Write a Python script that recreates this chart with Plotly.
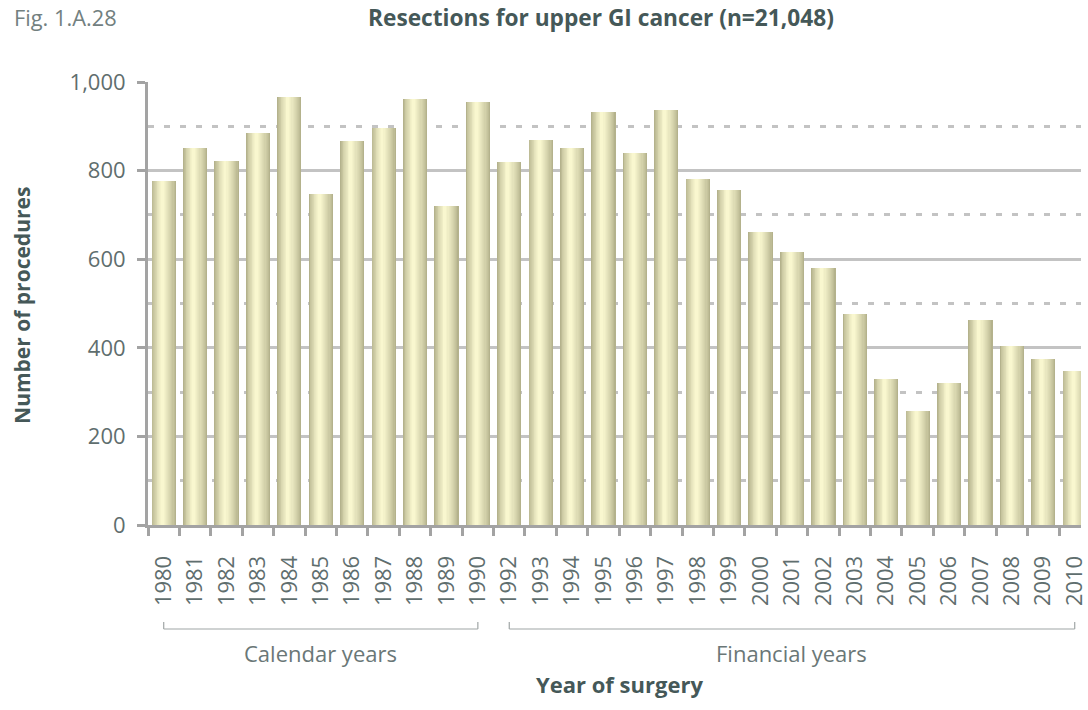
import plotly.graph_objects as go

# ---- data ----
years = ["1980", "1981", "1982", "1983", "1984", "1985", "1986", "1987", "1988", "1989", "1990",
         "1992", "1993", "1994", "1995", "1996", "1997", "1998", "1999", "2000", "2001",
         "2002", "2003", "2004", "2005", "2006", "2007", "2008", "2009", "2010"]
procedures = [777, 851, 822, 885, 966, 747, 867, 896, 961, 720, 955,
              819, 869, 851, 932, 840, 937, 781, 756, 661, 616,
              580, 477, 330, 257, 320, 463, 404, 375, 348]
group_labels = ["Calendar years", "Financial years"]
group_spans = [(0, 10), (11, 29)]  # category index ranges

title_text = "Resections for upper GI cancer (n=21,048)"
fig_label = "Fig. 1.A.28"
y_title = "Number of procedures"
x_title = "Year of surgery"

# ---- layout geometry (pixels) ----
W, H = 1088, 710
L, R, T, B = 148, 0, 82, 185
PW, PH = W - L - R, H - T - B


def px(x):
    return (x - L) / PW


def py(y):
    return (H - B - y) / PH


def mix(c1, c2, t):
    a = [int(c1[i:i + 2], 16) for i in (1, 3, 5)]
    b = [int(c2[i:i + 2], 16) for i in (1, 3, 5)]
    return "#" + "".join(f"{round(a[k] + (b[k] - a[k]) * t):02x}" for k in range(3))


FONT = "Open Sans"
TICK_COL = "#5f6e6e"
TITLE_COL = "#455858"
GRID_COL = "#c3c3c3"
AXIS_COL = "#a3a3a3"

fig = go.Figure()

# cylinder-like shading: stacked narrower bars with lighter colours
n_layers = 12
bar_w = 0.77
for i in range(n_layers):
    t = i / (n_layers - 1)
    w = bar_w * (1 - 0.88 * t)
    centre = -0.05 * t
    fig.add_trace(go.Bar(
        x=years, y=procedures,
        width=w, offset=centre - w / 2,
        marker=dict(color=mix("#b4b28c", "#f9f7cf", t ** 0.8), line=dict(width=0)),
        hoverinfo="skip" if i else "x+y",
        showlegend=False,
    ))

shapes = []
for (a, b) in group_spans:
    y_line = py(629)
    y_top = py(622)
    shapes.append(dict(type="line", xref="x", yref="paper", x0=a, x1=b, y0=y_line, y1=y_line,
                       line=dict(color="#a0a6a6", width=1.2)))
    for xx in (a, b):
        shapes.append(dict(type="line", xref="x", yref="paper", x0=xx, x1=xx, y0=y_line, y1=y_top,
                           line=dict(color="#a0a6a6", width=1.2)))

annotations = [
    dict(text=fig_label, xref="paper", yref="paper", x=px(11), y=py(18), xanchor="left", yanchor="middle",
         showarrow=False, font=dict(family=FONT, size=21.8, color="#72807f")),
    dict(text=f"<b>{title_text}</b>", xref="paper", yref="paper", x=px(604), y=py(18), xanchor="center",
         yanchor="middle", showarrow=False, font=dict(family=FONT, size=22.7, color=TITLE_COL)),
    dict(text=f"<b>{y_title}</b>", xref="paper", yref="paper", x=px(21), y=py(305), xanchor="center",
         yanchor="middle", textangle=-90, showarrow=False, font=dict(family=FONT, size=21, color=TITLE_COL)),
    dict(text=f"<b>{x_title}</b>", xref="paper", yref="paper", x=px(623), y=py(684), xanchor="center",
         yanchor="middle", showarrow=False, font=dict(family=FONT, size=22, color=TITLE_COL)),
]
for lab, (a, b) in zip(group_labels, group_spans):
    annotations.append(dict(text=lab, xref="x", yref="paper", x=(a + b) / 2, y=py(653), xanchor="center",
                            yanchor="middle", showarrow=False, font=dict(family=FONT, size=22, color="#6a7777")))

fig.update_layout(
    width=W, height=H,
    margin=dict(l=L, r=R, t=T, b=B, pad=0),
    paper_bgcolor="white", plot_bgcolor="white",
    barmode="overlay", bargap=0,
    font=dict(family=FONT, color=TICK_COL),
    shapes=shapes, annotations=annotations,
    xaxis=dict(
        type="category", range=[-0.5, 29.2],
        showline=True, linecolor=AXIS_COL, linewidth=3,
        ticks="outside", tickson="boundaries", ticklen=8, tickwidth=2.5, tickcolor=AXIS_COL,
        tickangle=-90, tickfont=dict(family=FONT, size=22, color=TICK_COL),
        ticklabelstandoff=19,
        showgrid=False, fixedrange=True,
    ),
    yaxis=dict(
        range=[0, 1000], tickvals=[0, 200, 400, 600, 800, 1000], tickformat=",",
        showline=True, linecolor=AXIS_COL, linewidth=3,
        ticks="outside", ticklen=8, tickwidth=2.5, tickcolor=AXIS_COL,
        tickfont=dict(family=FONT, size=22, color=TICK_COL),
        ticklabelstandoff=7,
        showgrid=True, gridcolor=GRID_COL, gridwidth=2.5, zeroline=False,
        minor=dict(dtick=100, tick0=0, showgrid=True, gridcolor=GRID_COL, gridwidth=2.5,
                   griddash="6px,10px", ticks=""),
        fixedrange=True,
    ),
)

fig.write_html("out.html", config={"displayModeBar": False},
               post_script="document.body.style.margin='0';document.body.style.overflow='hidden';")
